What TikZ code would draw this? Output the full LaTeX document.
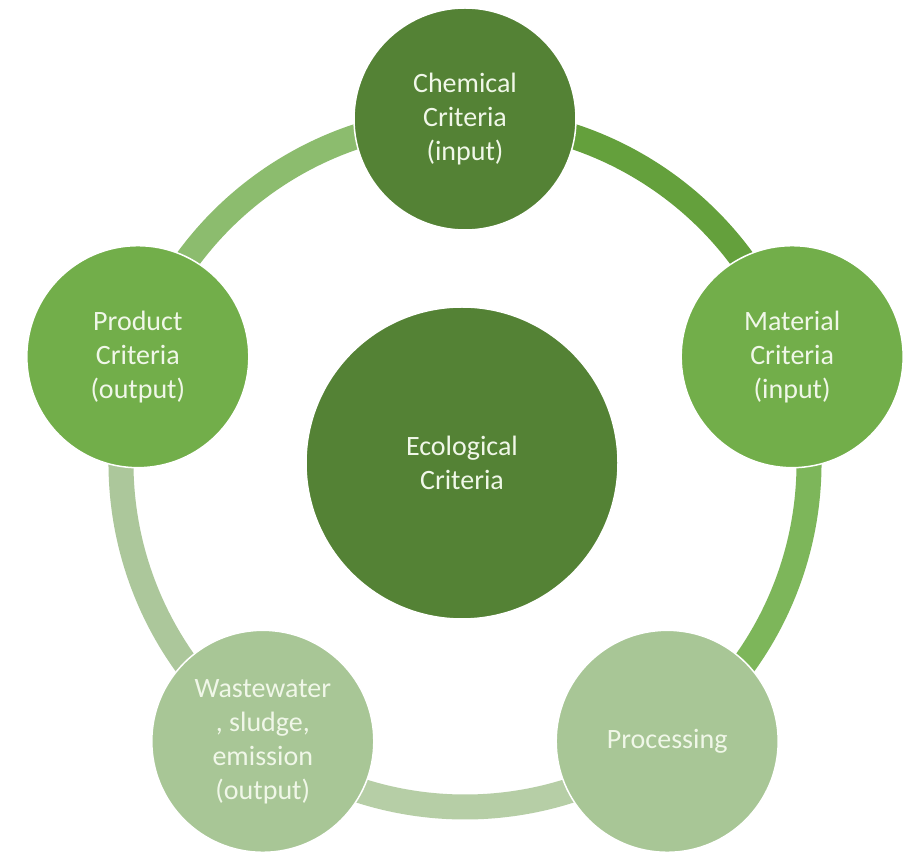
\documentclass[tikz,border=0pt]{standalone}
\usepackage{fontspec}
\setmainfont{Carlito}
\usetikzlibrary{calc}
\definecolor{gdark}{RGB}{84,130,53}
\definecolor{gmid}{RGB}{114,174,74}
\definecolor{glight}{RGB}{168,198,150}
\definecolor{segA}{RGB}{100,160,60}
\definecolor{segB}{RGB}{125,182,90}
\definecolor{segC}{RGB}{182,206,166}
\definecolor{segD}{RGB}{172,199,155}
\definecolor{segE}{RGB}{140,188,110}
\definecolor{txt}{RGB}{240,247,232}
\tikzset{
  bub/.style={circle, draw=white, line width=1.5pt, inner sep=0pt, minimum size=222pt,
    align=center, text=txt, font=\fontsize{28}{34}\selectfont},
  seg/.style={line width=25pt},
}
\begin{document}
\begin{tikzpicture}[x=1pt,y=1pt]
\useasboundingbox (0,0) rectangle (908,852);
\fill[white] (0,0) rectangle (908,852);
\coordinate (ring) at (465,389);
\coordinate (pChem) at ($(ring)+(90:344)$);
\coordinate (pMat) at ($(ring)+(18:344)$);
\coordinate (pProc) at ($(ring)+(-54:344)$);
\coordinate (pWaste) at ($(ring)+(-126:344)$);
\coordinate (pProd) at ($(ring)+(162:344)$);
% ring segments
\draw[seg, segA] (pChem) arc[start angle=90, end angle=18, radius=344];
\draw[seg, segB] (pMat) arc[start angle=18, end angle=-54, radius=344];
\draw[seg, segC] (pProc) arc[start angle=-54, end angle=-126, radius=344];
\draw[seg, segD] (pWaste) arc[start angle=-126, end angle=-198, radius=344];
\draw[seg, segE] (pProd) arc[start angle=162, end angle=90, radius=344];
% nodes
\node[bub, fill=gdark, minimum size=312pt] (eco) at (462,389) {Ecological\\Criteria};
\node[bub, fill=gdark] (chem) at (pChem) {Chemical\\Criteria\\(input)};
\node[bub, fill=gmid] (mat) at (pMat) {Material\\Criteria\\(input)};
\node[bub, fill=glight] (proc) at (pProc) {Processing};
\node[bub, fill=glight] (waste) at (pWaste) {Wastewater\\, sludge,\\emission\\(output)};
\node[bub, fill=gmid] (prod) at (pProd) {Product\\Criteria\\(output)};
\end{tikzpicture}
\end{document}
